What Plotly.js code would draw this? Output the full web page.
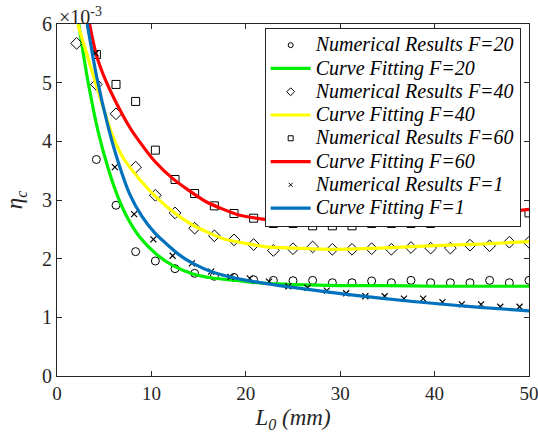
<!DOCTYPE html>
<html>
<head>
<meta charset="utf-8">
<script src="https://cdn.plot.ly/plotly-3.0.1.min.js"></script>
<style>html,body{margin:0;padding:0;background:#fff;}#chart{width:538px;height:440px;}</style>
</head>
<body>
<div id="chart"></div>
<script>
// Sample positions of the numerical results (L0, mm)
const xNum = [2.08,4.17,6.25,8.33,10.42,12.5,14.58,16.67,18.75,20.83,22.92,25.0,27.08,29.17,31.25,33.33,35.42,37.5,39.58,41.67,43.75,45.83,47.92,50.0];
const xNumF1 = [2.04,4.08,6.13,8.17,10.21,12.25,14.29,16.33,18.38,20.42,22.46,24.5,26.54,28.58,30.63,32.67,34.71,36.75,38.79,40.83,42.88,44.92,46.96,49.0];

// Numerical results (eta_c, x1e-3)
const numF20 = [null,3.69,2.91,2.12,1.96,1.83,1.75,1.70,1.68,1.64,1.63,1.625,1.63,1.59,1.59,1.62,1.59,1.63,1.59,1.59,1.59,1.63,1.59,1.63];
const numF40 = [5.67,4.97,4.47,3.56,3.08,2.78,2.52,2.39,2.32,2.24,2.14,2.17,2.20,2.16,2.16,2.17,2.16,2.19,2.18,2.18,2.23,2.22,2.28,2.28];
const numF60 = [null,5.48,4.97,4.68,3.85,3.35,3.11,2.90,2.77,2.69,2.60,2.60,2.56,2.56,2.56,2.60,2.60,2.60,2.60,2.68,2.68,2.72,2.75,2.78];
const numF1  = [null,5.5,3.56,2.76,2.33,2.05,1.92,1.78,1.69,1.665,1.61,1.53,1.505,1.455,1.41,1.36,1.36,1.32,1.32,1.26,1.22,1.22,1.18,1.18];

// Fitted curves
const fitF20x = [2.3,2.6,3.25,4.34,5.4,6.46,7.52,8.8,10.5,12.3,14.4,16.5,20.06,22.2,25,30,35,40,45,50];
const fitF20y = [6.0,5.68,5.05,4.18,3.55,3.05,2.68,2.36,2.08,1.88,1.74,1.67,1.61,1.58,1.56,1.54,1.54,1.53,1.53,1.53];
const fitF40x = [2.2,3.5,4.5,5.76,7.0,8.76,10.5,12.3,14.4,17.6,20,22.2,25,28.9,34.2,41.3,45,50];
const fitF40y = [6.0,5.3,4.78,4.15,3.72,3.35,3.05,2.80,2.57,2.34,2.26,2.20,2.18,2.16,2.18,2.23,2.25,2.29];
const fitF60x = [3.45,3.8,4.17,5.2,6.3,7.7,8.76,10.35,12.3,15.8,19.35,22.5,25,28.9,34.2,38,43.4,50];
const fitF60y = [6.0,5.72,5.47,5.02,4.65,4.24,3.99,3.66,3.36,2.97,2.74,2.66,2.62,2.60,2.62,2.65,2.72,2.84];
const fitF1x  = [3.2,4.2,5.4,6.46,7.7,9.0,10.4,13.0,14.4,16.5,20.06,23.6,25,30.7,37.7,44.8,50];
const fitF1y  = [6.0,5.1,4.26,3.66,3.1,2.72,2.43,2.06,1.92,1.77,1.63,1.54,1.51,1.39,1.27,1.17,1.11];

const serif = 'Times New Roman, Liberation Serif, DejaVu Serif, serif';
const lineSty = (c) => ({color:c, width:3.2, shape:'spline', smoothing:0.6});
const mk = (sym, size) => ({symbol:sym, size:size, color:'#000', line:{width:1, color:'#000'}});
const lg = (t) => '<span style="font-size:20px"><i>' + t + '</i></span>';

const traces = [
  {x:xNum, y:numF20, mode:'markers', showlegend:false, marker:mk('circle-open',8)},
  {x:fitF20x, y:fitF20y, mode:'lines', showlegend:false, line:lineSty('#00ee00')},
  {x:xNum, y:numF40, mode:'markers', showlegend:false, marker:mk('diamond-open',9)},
  {x:fitF40x, y:fitF40y, mode:'lines', showlegend:false, line:lineSty('#ffff00')},
  {x:xNum, y:numF60, mode:'markers', showlegend:false, marker:mk('square-open',8)},
  {x:fitF60x, y:fitF60y, mode:'lines', showlegend:false, line:lineSty('#ff0000')},
  {x:xNumF1, y:numF1, mode:'markers', showlegend:false, marker:{symbol:'x-thin-open', size:6, color:'#000', line:{width:1.2, color:'#000'}}},
  {x:fitF1x, y:fitF1y, mode:'lines', showlegend:false, line:lineSty('#0072bd')},
  // legend entries (small symbols as in the reference)
  {x:[null], y:[null], mode:'markers', name:lg('Numerical Results F=20'), marker:mk('circle-open',5)},
  {x:[null], y:[null], mode:'lines', name:lg('Curve Fitting F=20'), line:lineSty('#00ee00')},
  {x:[null], y:[null], mode:'markers', name:lg('Numerical Results F=40'), marker:mk('diamond-open',6)},
  {x:[null], y:[null], mode:'lines', name:lg('Curve Fitting F=40'), line:lineSty('#ffff00')},
  {x:[null], y:[null], mode:'markers', name:lg('Numerical Results F=60'), marker:mk('square-open',5)},
  {x:[null], y:[null], mode:'lines', name:lg('Curve Fitting F=60'), line:lineSty('#ff0000')},
  {x:[null], y:[null], mode:'markers', name:lg('Numerical Results F=1'), marker:{symbol:'x-thin-open', size:4, color:'#000', line:{width:1, color:'#000'}}},
  {x:[null], y:[null], mode:'lines', name:lg('Curve Fitting F=1'), line:lineSty('#0072bd')}
];

const layout = {
  width:538, height:440,
  margin:{l:57, r:9, t:24, b:64},
  paper_bgcolor:'#fff', plot_bgcolor:'#fff',
  font:{family:serif, color:'#262626', size:17},
  showlegend:true,
  legend:{x:0.44, y:0.99, xanchor:'left', yanchor:'top', bgcolor:'#fff', bordercolor:'#262626', borderwidth:1,
          font:{family:serif, size:15.6, color:'#000'}, itemwidth:40, tracegroupgap:0},
  xaxis:{range:[0,50], tickvals:[0,10,20,30,40,50], ticks:'inside', ticklen:5, tickcolor:'#262626',
         showline:true, linecolor:'#262626', linewidth:1, mirror:'ticks', showgrid:false, zeroline:false,
         ticklabeloverflow:'allow',
         tickfont:{family:serif, size:19, color:'#262626'},
         title:{text:'<i>L<sub>0</sub> (mm)</i>', font:{family:serif, size:23, color:'#262626'}, standoff:6}},
  yaxis:{range:[0,6], tickvals:[0,1,2,3,4,5,6], ticks:'inside', ticklen:5, tickcolor:'#262626',
         showline:true, linecolor:'#262626', linewidth:1, mirror:'ticks', showgrid:false, zeroline:false,
         tickfont:{family:serif, size:20, color:'#262626'},
         title:{text:'<i>η<sub>c</sub></i>', font:{family:serif, size:23, color:'#262626'}, standoff:12}},
  annotations:[{xref:'paper', yref:'paper', x:0.0, y:1.0, xanchor:'left', yanchor:'bottom', yshift:-6, showarrow:false,
                text:'×10<sup>-3</sup>', font:{family:serif, size:20, color:'#262626'}}]
};
Plotly.newPlot('chart', traces, layout, {displayModeBar:false, staticPlot:true});
</script>
</body>
</html>
